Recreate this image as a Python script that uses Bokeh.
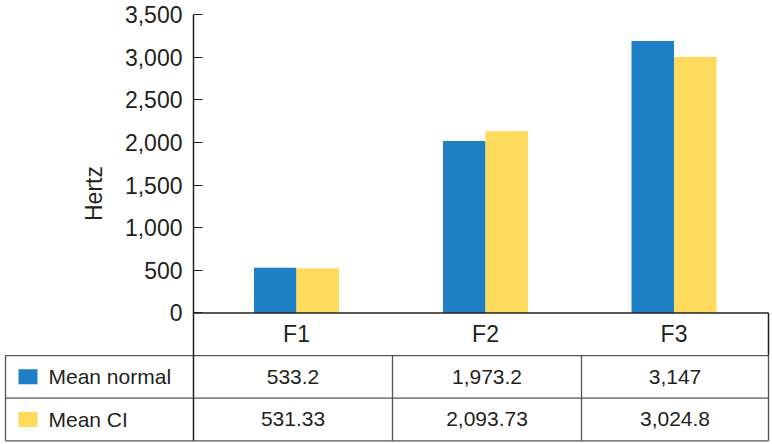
import math
from bokeh.plotting import figure
from bokeh.models import Range1d, LinearAxis, FixedTicker, NumeralTickFormatter, Label
from bokeh.core.properties import value
from bokeh.embed import file_html
from bokeh.resources import INLINE

# ---- data ----
categories = ["F1", "F2", "F3"]
series_names = ["Mean normal", "Mean CI"]
bar_normal = [530, 2015, 3190]      # bar heights as drawn
bar_ci = [525, 2130, 3000]
table_normal = ["533.2", "1,973.2", "3,147"]   # values printed in the table
table_ci = ["531.33", "2,093.73", "3,024.8"]
y_ticks = [0, 500, 1000, 1500, 2000, 2500, 3000, 3500]
y_label = "Hertz"

# ---- style ----
BLUE = "#1f7fc4"
YELLOW = "#fedb5c"
AXIS = "#231f20"
TABLE = "#555555"
TEXT = "#231f20"
FONT = "Liberation Sans"

# layout constants (x in pixel-like units; table rows 500 units tall)
col_edges = [5, 193, 392, 581, 768]
group_centers = [296, 485, 673.5]
bar_w = 42.5
row_centers = [-750, -1250]

p = figure(width=772, height=444, output_backend="svg", toolbar_location=None,
           x_range=Range1d(0, 770), y_range=Range1d(-1520, 3664),
           x_axis_location=None, y_axis_location=None,
           min_border_left=0, min_border_right=2, min_border_top=0, min_border_bottom=2)
p.outline_line_color = None
p.background_fill_color = "white"
p.border_fill_color = "white"
p.grid.grid_line_color = None

yaxis = LinearAxis(fixed_location=col_edges[1], ticker=FixedTicker(ticks=y_ticks),
                   formatter=NumeralTickFormatter(format="0,0"), bounds=(-1500, 3500))
yaxis.axis_line_color = AXIS
yaxis.axis_line_width = 1.5
yaxis.major_tick_line_color = AXIS
yaxis.major_tick_line_width = 1.2
yaxis.major_tick_in = 9
yaxis.major_tick_out = 0
yaxis.minor_tick_line_color = None
yaxis.major_label_standoff = 11
yaxis.major_label_text_font = FONT
yaxis.major_label_text_font_size = "23px"
yaxis.major_label_text_color = TEXT
p.add_layout(yaxis, "left")

# bars
xn = [c - bar_w / 2 for c in group_centers]
xc = [c + bar_w / 2 for c in group_centers]
p.vbar(x=xn, top=bar_normal, bottom=0, width=bar_w, fill_color=BLUE, line_color=None)
p.vbar(x=xc, top=bar_ci, bottom=0, width=bar_w, fill_color=YELLOW, line_color=None)

# axis baseline + category box
p.segment(x0=[col_edges[1]], y0=[0], x1=[col_edges[-1]], y1=[0], line_color=AXIS, line_width=1.5)
p.segment(x0=[col_edges[-1]], y0=[0], x1=[col_edges[-1]], y1=[-500], line_color=AXIS, line_width=1.5)

# table grid
hx0 = [col_edges[0]] * 3
hx1 = [col_edges[-1]] * 3
hy = [-500, -1000, -1500]
p.segment(x0=hx0, y0=hy, x1=hx1, y1=hy, line_color=TABLE, line_width=1.3)
vx = [col_edges[0], col_edges[2], col_edges[3], col_edges[-1]]
p.segment(x0=vx, y0=[-500] * 4, x1=vx, y1=[-1500] * 4, line_color=TABLE, line_width=1.3)

# category labels
p.text(x=group_centers, y=[-250] * 3, text=categories, text_align="center",
       text_baseline="middle", text_font=value(FONT), text_font_size=value("23px"),
       text_color=TEXT)

# table values
col_centers = [(col_edges[i] + col_edges[i + 1]) / 2 for i in range(1, 4)]
p.text(x=col_centers, y=[row_centers[0]] * 3, text=table_normal, text_align="center",
       text_baseline="middle", text_font=value(FONT), text_font_size=value("21px"),
       text_color=TEXT)
p.text(x=col_centers, y=[row_centers[1]] * 3, text=table_ci, text_align="center",
       text_baseline="middle", text_font=value(FONT), text_font_size=value("21px"),
       text_color=TEXT)

# legend swatches + names
p.rect(x=[27.5, 27.5], y=row_centers, width=19, height=15, width_units="screen",
       height_units="screen", fill_color=[BLUE, YELLOW], line_color=None)
p.text(x=[48, 48], y=row_centers, text=series_names, text_align="left",
       text_baseline="middle", text_font=value(FONT), text_font_size=value("21px"),
       text_color=TEXT)

# y axis title
p.add_layout(Label(x=93, y=1400, text=y_label, angle=math.pi / 2,
                   text_align="center", text_baseline="middle",
                   text_font=FONT, text_font_size="23px", text_color=TEXT))

open("out.html", "w").write(file_html(p, INLINE))
